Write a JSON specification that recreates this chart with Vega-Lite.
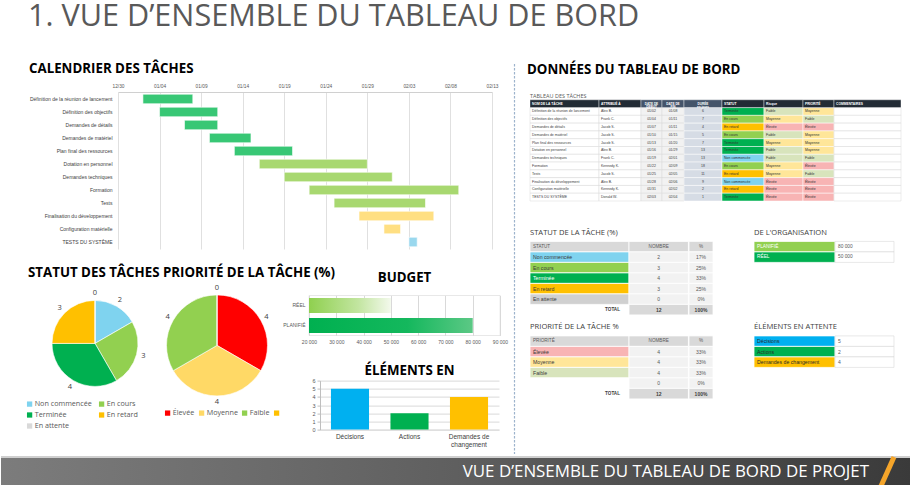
{
"$schema": "https://vega.github.io/schema/vega-lite/v6.json",
"background": "#ffffff",
"padding": {"top": 2, "left": 0, "right": 0, "bottom": 0},
"config": {
  "font": "Open Sans",
  "view": {"stroke": null},
  "title": {"font": "Open Sans", "color": "#000000"},
  "axis": {"labelFont": "Liberation Sans"},
  "legend": {"labelFont": "Open Sans"},
  "locale": {"number": {"decimal": ",", "thousands": " ", "grouping": [3], "currency": ["", " €"]}}
},
"title": {"text": "1. VUE D’ENSEMBLE DU TABLEAU DE BORD", "anchor": "start", "frame": "bounds", "dx": 28, "offset": 29.5, "fontSize": 30.6, "fontWeight": "normal", "color": "#595959"},
"datasets": {
  "taches": [
    {"n": 1, "nom": "Définition de la réunion de lancement", "attribue": "Alex B.", "debut": "2024-01-02", "fin": "2024-01-08", "duree": 6, "statut": "Terminée", "risque": "Faible", "priorite": "Moyenne", "phase": "Lancement"},
    {"n": 2, "nom": "Définition des objectifs", "attribue": "Frank C.", "debut": "2024-01-04", "fin": "2024-01-11", "duree": 7, "statut": "En cours", "risque": "Moyenne", "priorite": "Faible", "phase": "Lancement"},
    {"n": 3, "nom": "Demandes de détails", "attribue": "Jacob S.", "debut": "2024-01-07", "fin": "2024-01-11", "duree": 4, "statut": "En retard", "risque": "Élevée", "priorite": "Élevée", "phase": "Lancement"},
    {"n": 4, "nom": "Demandes de matériel", "attribue": "Jacob S.", "debut": "2024-01-10", "fin": "2024-01-15", "duree": 5, "statut": "En cours", "risque": "Faible", "priorite": "Moyenne", "phase": "Lancement"},
    {"n": 5, "nom": "Plan final des ressources", "attribue": "Jacob S.", "debut": "2024-01-13", "fin": "2024-01-20", "duree": 7, "statut": "Terminée", "risque": "Moyenne", "priorite": "Moyenne", "phase": "Lancement"},
    {"n": 6, "nom": "Dotation en personnel", "attribue": "Alex B.", "debut": "2024-01-16", "fin": "2024-01-29", "duree": 13, "statut": "Terminée", "risque": "Faible", "priorite": "Moyenne", "phase": "Exécution"},
    {"n": 7, "nom": "Demandes techniques", "attribue": "Frank C.", "debut": "2024-01-19", "fin": "2024-02-01", "duree": 13, "statut": "Non commencée", "risque": "Faible", "priorite": "Faible", "phase": "Exécution"},
    {"n": 8, "nom": "Formation", "attribue": "Kennedy K.", "debut": "2024-01-22", "fin": "2024-02-09", "duree": 18, "statut": "En cours", "risque": "Moyenne", "priorite": "Élevée", "phase": "Exécution"},
    {"n": 9, "nom": "Tests", "attribue": "Jacob S.", "debut": "2024-01-25", "fin": "2024-02-05", "duree": 11, "statut": "En retard", "risque": "Moyenne", "priorite": "Faible", "phase": "Exécution"},
    {"n": 10, "nom": "Finalisation du développement", "attribue": "Alex B.", "debut": "2024-01-28", "fin": "2024-02-06", "duree": 9, "statut": "Non commencée", "risque": "Élevée", "priorite": "Élevée", "phase": "Contrôle"},
    {"n": 11, "nom": "Configuration matérielle", "attribue": "Kennedy K.", "debut": "2024-01-31", "fin": "2024-02-02", "duree": 2, "statut": "En retard", "risque": "Élevée", "priorite": "Élevée", "phase": "Contrôle"},
    {"n": 12, "nom": "TESTS DU SYSTÈME", "attribue": "Donald W.", "debut": "2024-02-03", "fin": "2024-02-04", "duree": 1, "statut": "Terminée", "risque": "Élevée", "priorite": "Élevée", "phase": "Clôture"}
  ],
  "statuts": [
    {"statut": "Non commencée", "nombre": 2, "pct": 0.17, "rang": 1},
    {"statut": "En cours", "nombre": 3, "pct": 0.25, "rang": 2},
    {"statut": "Terminée", "nombre": 4, "pct": 0.33, "rang": 3},
    {"statut": "En retard", "nombre": 3, "pct": 0.25, "rang": 4},
    {"statut": "En attente", "nombre": 0, "pct": 0, "rang": 5}
  ],
  "priorites": [
    {"priorite": "Élevée", "nombre": 4, "pct": 0.33, "rang": 1},
    {"priorite": "Moyenne", "nombre": 4, "pct": 0.33, "rang": 2},
    {"priorite": "Faible", "nombre": 4, "pct": 0.33, "rang": 3},
    {"priorite": "", "nombre": 0, "pct": 0, "rang": 4}
  ],
  "entetes": [
    {"ligne": "hS", "col1": "STATUT", "col2": "NOMBRE", "col3": "%"},
    {"ligne": "hP", "col1": "PRIORITÉ", "col2": "NOMBRE", "col3": "%"}
  ],
  "totaux": [
    {"ligne": "totS", "libelle": "TOTAL", "nombre": 12, "pct": 1},
    {"ligne": "totP", "libelle": "TOTAL", "nombre": 12, "pct": 1}
  ],
  "budget": [
    {"poste": "PLANIFIÉ", "montant": 80000},
    {"poste": "RÉEL", "montant": 50000}
  ],
  "attente": [
    {"element": "Décisions", "nombre": 5},
    {"element": "Actions", "nombre": 2},
    {"element": "Demandes de changement", "nombre": 4}
  ]
},
"spacing": -1,
"resolve": {"scale": {"color": "independent"}, "legend": {"color": "independent"}},
"vconcat": [
 {
  "hconcat": [
   {
    "vconcat": [
     {
      "hconcat": [
       {"width": 117, "height": 1, "data": {"values": []}, "mark": "rect", "encoding": {}},
       {
        "width": 374, "height": 157,
        "title": {"text": "CALENDRIER DES TÂCHES", "anchor": "start", "frame": "group", "dx": -89, "offset": 7.5, "fontSize": 13.3, "fontWeight": "bold", "color": "#000000"},
        "data": {"name": "taches"},
        "mark": {"type": "bar", "stroke": "#ffffff", "strokeWidth": 0.6},
        "encoding": {
          "y": {"field": "nom", "type": "nominal", "sort": null, "scale": {"paddingInner": 0.27, "paddingOuter": 0.17}, "axis": {"title": null, "domain": false, "ticks": false, "labelFontSize": 5, "labelColor": "#404040", "labelPadding": 6, "labelLimit": 200}},
          "x": {"field": "debut", "type": "temporal", "scale": {"type": "utc", "domain": [{"year": 2023, "month": 12, "date": 30, "utc": true}, {"year": 2024, "month": 2, "date": 13, "utc": true}]},
                "axis": {"orient": "top", "title": null, "format": "%m/%d", "labelFontSize": 4.8, "labelColor": "#595959", "labelPadding": 4, "labelFlush": false, "labelOverlap": false, "ticks": false, "domainColor": "#d0d0d0", "grid": true, "gridColor": "#e0e0e0",
                         "values": [{"year": 2023, "month": 12, "date": 30, "utc": true}, {"year": 2024, "month": 1, "date": 4, "utc": true}, {"year": 2024, "month": 1, "date": 9, "utc": true}, {"year": 2024, "month": 1, "date": 14, "utc": true}, {"year": 2024, "month": 1, "date": 19, "utc": true}, {"year": 2024, "month": 1, "date": 24, "utc": true}, {"year": 2024, "month": 1, "date": 29, "utc": true}, {"year": 2024, "month": 2, "date": 3, "utc": true}, {"year": 2024, "month": 2, "date": 8, "utc": true}, {"year": 2024, "month": 2, "date": 13, "utc": true}]}},
          "x2": {"field": "fin"},
          "color": {"field": "phase", "type": "nominal", "scale": {"domain": ["Lancement", "Exécution", "Contrôle", "Clôture"], "range": ["#38c775", "#a8d870", "#ffdf82", "#9ad8ee"]}, "legend": null}
        }
       }
      ],
      "spacing": 0, "bounds": "flush",
      "resolve": {"scale": {"color": "independent"}, "legend": {"color": "independent"}}
     },
     {
      "title": {"text": "STATUT DES TÂCHES PRIORITÉ DE LA TÂCHE (%)", "anchor": "start", "frame": "bounds", "dx": 27, "offset": -8.5, "fontSize": 13.3, "fontWeight": "bold", "color": "#000000"},
      "hconcat": [
       {"width": 25, "height": 1, "data": {"values": []}, "mark": "rect", "encoding": {}},
       {
        "width": 138, "height": 96,
        "data": {"name": "statuts"},
        "encoding": {"theta": {"field": "nombre", "type": "quantitative", "stack": true}, "order": {"field": "rang", "type": "quantitative"}},
        "layer": [
          {"mark": {"type": "arc", "outerRadius": 43, "stroke": "#ffffff", "strokeWidth": 0.6},
           "encoding": {"color": {"field": "statut", "type": "nominal", "sort": null,
             "scale": {"domain": ["Non commencée", "En cours", "Terminée", "En retard", "En attente"], "range": ["#7fd3ef", "#92d050", "#00b050", "#ffc000", "#d9d9d9"]},
             "legend": {"orient": "bottom", "title": null, "columns": 2, "symbolType": "square", "symbolSize": 28, "symbolStrokeWidth": 0, "labelFontSize": 7.2, "labelColor": "#595959", "columnPadding": 6, "rowPadding": 3, "offset": 9, "padding": 0, "labelOffset": 1.5}}}},
          {"mark": {"type": "text", "radius": 50, "fontSize": 7.5, "color": "#404040"}, "encoding": {"text": {"field": "nombre", "type": "quantitative"}}}
        ]
       },
       {
        "width": 106, "height": 100,
        "data": {"name": "priorites"},
        "encoding": {"theta": {"field": "nombre", "type": "quantitative", "stack": true}, "order": {"field": "rang", "type": "quantitative"}},
        "layer": [
          {"mark": {"type": "arc", "outerRadius": 50.5, "stroke": "#ffffff", "strokeWidth": 0.6},
           "encoding": {"color": {"field": "priorite", "type": "nominal", "sort": null,
             "scale": {"domain": ["Élevée", "Moyenne", "Faible", ""], "range": ["#ff0000", "#ffd966", "#92d050", "#ffc000"]},
             "legend": {"orient": "bottom", "title": null, "columns": 4, "symbolType": "square", "symbolSize": 28, "symbolStrokeWidth": 0, "labelFontSize": 7.2, "labelColor": "#595959", "columnPadding": 3, "rowPadding": 3, "offset": 14, "padding": 0, "labelOffset": 1.5}}}},
          {"mark": {"type": "text", "radius": 57, "fontSize": 7.5, "color": "#404040"}, "encoding": {"text": {"field": "nombre", "type": "quantitative"}}}
        ]
       },
       {
        "vconcat": [
         {
          "width": 191, "height": 40,
          "title": {"text": "BUDGET", "anchor": "middle", "offset": 11.4, "fontSize": 13.3, "fontWeight": "bold", "color": "#000000"},
          "view": {"stroke": "#d9d9d9", "strokeWidth": 0.6},
          "data": {"name": "budget"},
          "encoding": {
            "y": {"field": "poste", "type": "nominal", "sort": ["RÉEL", "PLANIFIÉ"], "scale": {"paddingInner": 0.25, "paddingOuter": 0.125}, "axis": {"title": null, "domain": false, "ticks": false, "labelFontSize": 5, "labelColor": "#595959", "labelPadding": 4}},
            "x": {"field": "montant", "type": "quantitative", "scale": {"domain": [20000, 90000], "nice": false, "zero": false}, "axis": {"title": null, "values": [20000, 30000, 40000, 50000, 60000, 70000, 80000, 90000], "format": ",.0f", "labelFontSize": 5, "labelColor": "#595959", "domain": false, "ticks": false, "grid": true, "gridColor": "#d9d9d9", "labelPadding": 4, "labelFlush": false, "labelOverlap": false}},
            "x2": {"datum": 20000}
          },
          "layer": [
            {"transform": [{"filter": "datum.poste === 'RÉEL'"}], "mark": {"type": "bar", "color": {"gradient": "linear", "x1": 0, "y1": 0, "x2": 1, "y2": 0, "stops": [{"offset": 0, "color": "#8fd04f"}, {"offset": 0.6, "color": "#c2e5a0"}, {"offset": 1, "color": "#f3f9ec"}]}}},
            {"transform": [{"filter": "datum.poste === 'PLANIFIÉ'"}], "mark": {"type": "bar", "color": {"gradient": "linear", "x1": 0, "y1": 0, "x2": 1, "y2": 0, "stops": [{"offset": 0, "color": "#00b050"}, {"offset": 0.6, "color": "#14b85d"}, {"offset": 1, "color": "#5cc885"}]}}}
          ]
         },
         {
          "hconcat": [
           {"width": 11, "height": 1, "data": {"values": []}, "mark": "rect", "encoding": {}},
           {
            "width": 179, "height": 49,
            "title": {"text": "ÉLÉMENTS EN", "anchor": "middle", "offset": 1.4, "fontSize": 13.3, "fontWeight": "bold", "color": "#000000"},
            "data": {"name": "attente"},
            "mark": {"type": "bar"},
            "encoding": {
              "x": {"field": "element", "type": "nominal", "sort": null, "scale": {"paddingInner": 0.36, "paddingOuter": 0.184},
                    "axis": {"title": null, "labelAngle": 0, "labelFontSize": 6.5, "labelColor": "#404040", "ticks": false, "domainColor": "#d9d9d9", "labelPadding": 4, "labelLineHeight": 8,
                             "labelExpr": "datum.label == 'Demandes de changement' ? ['Demandes de', 'changement'] : datum.label"}},
              "y": {"field": "nombre", "type": "quantitative", "scale": {"domain": [0, 6], "nice": false},
                    "axis": {"title": null, "values": [0, 1, 2, 3, 4, 5, 6], "labelFontSize": 5.5, "labelColor": "#595959", "domainColor": "#bfbfbf", "tickSize": 3, "tickColor": "#bfbfbf", "grid": true, "gridColor": "#d9d9d9", "labelPadding": 2}},
              "color": {"field": "element", "type": "nominal", "scale": {"domain": ["Décisions", "Actions", "Demandes de changement"], "range": ["#00b0f0", "#00b050", "#ffc000"]}, "legend": null}
            }
           }
          ],
          "spacing": 0, "bounds": "flush",
          "resolve": {"scale": {"color": "independent"}, "legend": {"color": "independent"}}
         }
        ],
        "spacing": 18.2,
        "resolve": {"scale": {"color": "independent"}, "legend": {"color": "independent"}}
       }
      ],
      "spacing": 0,
      "resolve": {"scale": {"color": "independent"}, "legend": {"color": "independent"}}
     }
    ],
    "spacing": 16.4,
    "resolve": {"scale": {"color": "independent"}, "legend": {"color": "independent"}}
   },
   {
    "width": 7, "height": 362,
    "data": {"values": [{}]},
    "mark": {"type": "rule", "color": "#9db3cc", "strokeWidth": 1.2, "strokeDash": [2.5, 1.5], "yOffset": -28},
    "encoding": {"x": {"datum": 0, "type": "quantitative", "scale": {"domain": [0, 1]}, "axis": null}}
   },
   {
    "vconcat": [
     {
      "hconcat": [
       {
        "width": 69, "height": 109,
        "title": {"text": "DONNÉES DU TABLEAU DE BORD", "anchor": "start", "frame": "group", "offset": 15.4, "dx": -3, "fontSize": 13.3, "fontWeight": "bold", "color": "#000000"},
        "data": {"name": "taches"},
        "layer": [
          {"mark": {"type": "rect", "color": "#ffffff", "stroke": "#d9d9d9", "strokeWidth": 0.5}, "encoding": {"y": {"field": "n", "type": "ordinal", "scale": {"domain": [-1,0,1,2,3,4,5,6,7,8,9,10,11,12], "paddingInner": 0, "paddingOuter": 0}, "axis": null}}},
          {"mark": {"type": "text", "align": "left", "dx": 2, "fontSize": 3.5, "font": "Liberation Sans", "color": "#404040"}, "encoding": {"y": {"field": "n", "type": "ordinal"}, "x": {"datum": 0, "type": "quantitative", "scale": {"domain": [0, 1]}, "axis": null}, "text": {"field": "nom"}}},
          {"data": {"values": [{}]}, "mark": {"type": "rect", "color": "#222b35", "stroke": "#ffffff", "strokeWidth": 0.4}, "encoding": {"y": {"datum": 0, "type": "ordinal"}}},
          {"data": {"values": [{}]}, "mark": {"type": "text", "text": "NOM DE LA TÂCHE", "align": "left", "dx": 2, "fontSize": 3.3, "fontWeight": "bold", "font": "Liberation Sans", "color": "#ffffff"}, "encoding": {"y": {"datum": 0, "type": "ordinal"}, "x": {"datum": 0, "type": "quantitative"}}},
          {"data": {"values": [{}]}, "mark": {"type": "text", "text": "TABLEAU DES TÂCHES", "align": "left", "fontSize": 5.5, "color": "#595959"}, "encoding": {"y": {"datum": -1, "type": "ordinal"}, "x": {"datum": 0, "type": "quantitative"}}}
        ]
       },
       {
        "width": 42, "height": 109,
        "data": {"name": "taches"},
        "layer": [
          {"mark": {"type": "rect", "color": "#ffffff", "stroke": "#d9d9d9", "strokeWidth": 0.5}, "encoding": {"y": {"field": "n", "type": "ordinal", "scale": {"domain": [-1,0,1,2,3,4,5,6,7,8,9,10,11,12], "paddingInner": 0, "paddingOuter": 0}, "axis": null}}},
          {"mark": {"type": "text", "align": "left", "dx": 2, "fontSize": 3.5, "font": "Liberation Sans", "color": "#404040"}, "encoding": {"y": {"field": "n", "type": "ordinal"}, "x": {"datum": 0, "type": "quantitative", "scale": {"domain": [0, 1]}, "axis": null}, "text": {"field": "attribue"}}},
          {"data": {"values": [{}]}, "mark": {"type": "rect", "color": "#222b35", "stroke": "#ffffff", "strokeWidth": 0.4}, "encoding": {"y": {"datum": 0, "type": "ordinal"}}},
          {"data": {"values": [{}]}, "mark": {"type": "text", "text": "ATTRIBUÉ À", "align": "left", "dx": 2, "fontSize": 3.3, "fontWeight": "bold", "font": "Liberation Sans", "color": "#ffffff"}, "encoding": {"y": {"datum": 0, "type": "ordinal"}, "x": {"datum": 0, "type": "quantitative"}}}
        ]
       },
       {
        "width": 21, "height": 109,
        "data": {"name": "taches"},
        "layer": [
          {"mark": {"type": "rect", "color": "#f2f2f2", "stroke": "#d9d9d9", "strokeWidth": 0.5}, "encoding": {"y": {"field": "n", "type": "ordinal", "scale": {"domain": [-1,0,1,2,3,4,5,6,7,8,9,10,11,12], "paddingInner": 0, "paddingOuter": 0}, "axis": null}}},
          {"mark": {"type": "text", "fontSize": 3.5, "font": "Liberation Sans", "color": "#404040"}, "encoding": {"y": {"field": "n", "type": "ordinal"}, "text": {"field": "debut", "type": "temporal", "timeUnit": "utcmonthdate", "format": "%m/%d"}}},
          {"data": {"values": [{}]}, "mark": {"type": "rect", "color": "#44546a", "stroke": "#ffffff", "strokeWidth": 0.4}, "encoding": {"y": {"datum": 0, "type": "ordinal"}}},
          {"data": {"values": [{}]}, "mark": {"type": "text", "text": ["DATE DE", "DÉBUT"], "lineHeight": 3.6, "fontSize": 3.1, "fontWeight": "bold", "font": "Liberation Sans", "color": "#ffffff"}, "encoding": {"y": {"datum": 0, "type": "ordinal"}}}
        ]
       },
       {
        "width": 22, "height": 109,
        "data": {"name": "taches"},
        "layer": [
          {"mark": {"type": "rect", "color": "#f2f2f2", "stroke": "#d9d9d9", "strokeWidth": 0.5}, "encoding": {"y": {"field": "n", "type": "ordinal", "scale": {"domain": [-1,0,1,2,3,4,5,6,7,8,9,10,11,12], "paddingInner": 0, "paddingOuter": 0}, "axis": null}}},
          {"mark": {"type": "text", "fontSize": 3.5, "font": "Liberation Sans", "color": "#404040"}, "encoding": {"y": {"field": "n", "type": "ordinal"}, "text": {"field": "fin", "type": "temporal", "timeUnit": "utcmonthdate", "format": "%m/%d"}}},
          {"data": {"values": [{}]}, "mark": {"type": "rect", "color": "#44546a", "stroke": "#ffffff", "strokeWidth": 0.4}, "encoding": {"y": {"datum": 0, "type": "ordinal"}}},
          {"data": {"values": [{}]}, "mark": {"type": "text", "text": ["DATE DE", "FIN"], "lineHeight": 3.6, "fontSize": 3.1, "fontWeight": "bold", "font": "Liberation Sans", "color": "#ffffff"}, "encoding": {"y": {"datum": 0, "type": "ordinal"}}}
        ]
       },
       {
        "width": 38, "height": 109,
        "data": {"name": "taches"},
        "layer": [
          {"mark": {"type": "rect", "color": "#d6dce5", "stroke": "#ffffff", "strokeWidth": 0.5}, "encoding": {"y": {"field": "n", "type": "ordinal", "scale": {"domain": [-1,0,1,2,3,4,5,6,7,8,9,10,11,12], "paddingInner": 0, "paddingOuter": 0}, "axis": null}}},
          {"mark": {"type": "text", "fontSize": 3.5, "font": "Liberation Sans", "color": "#404040"}, "encoding": {"y": {"field": "n", "type": "ordinal"}, "text": {"field": "duree", "type": "quantitative"}}},
          {"data": {"values": [{}]}, "mark": {"type": "rect", "color": "#44546a", "stroke": "#ffffff", "strokeWidth": 0.4}, "encoding": {"y": {"datum": 0, "type": "ordinal"}}},
          {"data": {"values": [{}]}, "mark": {"type": "text", "text": ["DURÉE", "en jours"], "lineHeight": 3.6, "fontSize": 3.1, "fontWeight": "bold", "font": "Liberation Sans", "color": "#ffffff"}, "encoding": {"y": {"datum": 0, "type": "ordinal"}}}
        ]
       },
       {
        "width": 42, "height": 109,
        "data": {"name": "taches"},
        "layer": [
          {"mark": {"type": "rect", "stroke": "#ffffff", "strokeWidth": 0.5}, "encoding": {"y": {"field": "n", "type": "ordinal", "scale": {"domain": [-1,0,1,2,3,4,5,6,7,8,9,10,11,12], "paddingInner": 0, "paddingOuter": 0}, "axis": null}, "color": {"field": "statut", "type": "nominal", "scale": {"domain": ["Non commencée", "En cours", "Terminée", "En retard", "En attente"], "range": ["#7fd3ef", "#92d050", "#00b050", "#ffc000", "#d0d0d0"]}, "legend": null}}},
          {"mark": {"type": "text", "align": "left", "dx": 2, "fontSize": 3.5, "font": "Liberation Sans", "color": "#303030"}, "encoding": {"y": {"field": "n", "type": "ordinal"}, "x": {"datum": 0, "type": "quantitative", "scale": {"domain": [0, 1]}, "axis": null}, "text": {"field": "statut"}}},
          {"data": {"values": [{}]}, "mark": {"type": "rect", "color": "#222b35", "stroke": "#ffffff", "strokeWidth": 0.4}, "encoding": {"y": {"datum": 0, "type": "ordinal"}}},
          {"data": {"values": [{}]}, "mark": {"type": "text", "text": "STATUT", "align": "left", "dx": 2, "fontSize": 3.3, "fontWeight": "bold", "font": "Liberation Sans", "color": "#ffffff"}, "encoding": {"y": {"datum": 0, "type": "ordinal"}, "x": {"datum": 0, "type": "quantitative"}}}
        ]
       },
       {
        "width": 39, "height": 109,
        "data": {"name": "taches"},
        "layer": [
          {"mark": {"type": "rect", "stroke": "#ffffff", "strokeWidth": 0.5}, "encoding": {"y": {"field": "n", "type": "ordinal", "scale": {"domain": [-1,0,1,2,3,4,5,6,7,8,9,10,11,12], "paddingInner": 0, "paddingOuter": 0}, "axis": null}, "color": {"field": "risque", "type": "nominal", "scale": {"domain": ["Élevée", "Moyenne", "Faible"], "range": ["#f8b4b4", "#ffe699", "#d8e4bc"]}, "legend": null}}},
          {"mark": {"type": "text", "align": "left", "dx": 2, "fontSize": 3.5, "font": "Liberation Sans", "color": "#303030"}, "encoding": {"y": {"field": "n", "type": "ordinal"}, "x": {"datum": 0, "type": "quantitative", "scale": {"domain": [0, 1]}, "axis": null}, "text": {"field": "risque"}}},
          {"data": {"values": [{}]}, "mark": {"type": "rect", "color": "#222b35", "stroke": "#ffffff", "strokeWidth": 0.4}, "encoding": {"y": {"datum": 0, "type": "ordinal"}}},
          {"data": {"values": [{}]}, "mark": {"type": "text", "text": "Risque", "align": "left", "dx": 2, "fontSize": 3.3, "fontWeight": "bold", "font": "Liberation Sans", "color": "#ffffff"}, "encoding": {"y": {"datum": 0, "type": "ordinal"}, "x": {"datum": 0, "type": "quantitative"}}}
        ]
       },
       {
        "width": 31, "height": 109,
        "data": {"name": "taches"},
        "layer": [
          {"mark": {"type": "rect", "stroke": "#ffffff", "strokeWidth": 0.5}, "encoding": {"y": {"field": "n", "type": "ordinal", "scale": {"domain": [-1,0,1,2,3,4,5,6,7,8,9,10,11,12], "paddingInner": 0, "paddingOuter": 0}, "axis": null}, "color": {"field": "priorite", "type": "nominal", "scale": {"domain": ["Élevée", "Moyenne", "Faible"], "range": ["#f8b4b4", "#ffe699", "#d8e4bc"]}, "legend": null}}},
          {"mark": {"type": "text", "align": "left", "dx": 2, "fontSize": 3.5, "font": "Liberation Sans", "color": "#303030"}, "encoding": {"y": {"field": "n", "type": "ordinal"}, "x": {"datum": 0, "type": "quantitative", "scale": {"domain": [0, 1]}, "axis": null}, "text": {"field": "priorite"}}},
          {"data": {"values": [{}]}, "mark": {"type": "rect", "color": "#222b35", "stroke": "#ffffff", "strokeWidth": 0.4}, "encoding": {"y": {"datum": 0, "type": "ordinal"}}},
          {"data": {"values": [{}]}, "mark": {"type": "text", "text": "PRIORITÉ", "align": "left", "dx": 2, "fontSize": 3.3, "fontWeight": "bold", "font": "Liberation Sans", "color": "#ffffff"}, "encoding": {"y": {"datum": 0, "type": "ordinal"}, "x": {"datum": 0, "type": "quantitative"}}}
        ]
       },
       {
        "width": 67, "height": 109,
        "data": {"name": "taches"},
        "layer": [
          {"mark": {"type": "rect", "color": "#ffffff", "stroke": "#d9d9d9", "strokeWidth": 0.5}, "encoding": {"y": {"field": "n", "type": "ordinal", "scale": {"domain": [-1,0,1,2,3,4,5,6,7,8,9,10,11,12], "paddingInner": 0, "paddingOuter": 0}, "axis": null}}},
          {"data": {"values": [{}]}, "mark": {"type": "rect", "color": "#222b35", "stroke": "#ffffff", "strokeWidth": 0.4}, "encoding": {"y": {"datum": 0, "type": "ordinal"}}},
          {"data": {"values": [{}]}, "mark": {"type": "text", "text": "COMMENTAIRES", "align": "left", "dx": 2, "fontSize": 3.3, "fontWeight": "bold", "font": "Liberation Sans", "color": "#ffffff"}, "encoding": {"y": {"datum": 0, "type": "ordinal"}, "x": {"datum": 0, "type": "quantitative", "scale": {"domain": [0, 1]}, "axis": null}}}
        ]
       }
      ],
      "spacing": 0, "bounds": "flush",
      "resolve": {"scale": {"color": "independent"}, "legend": {"color": "independent"}}
     },
     {
      "hconcat": [
       {
        "width": 99, "height": 157.5,
        "title": {"text": "STATUT DE LA TÂCHE (%)", "anchor": "start", "frame": "group", "offset": 4.8, "fontSize": 7.6, "fontWeight": "normal", "color": "#404040"},
        "layer": [
          {"data": {"name": "entetes"}, "mark": {"type": "rect", "color": "#d9d9d9", "stroke": "#ffffff", "strokeWidth": 0.8}, "encoding": {"y": {"field": "ligne", "type": "ordinal", "scale": {"domain": ["hS", "Non commencée", "En cours", "Terminée", "En retard", "En attente", "totS", "g1", "g2", "hP", "Élevée", "Moyenne", "Faible", "", "totP"], "paddingInner": 0, "paddingOuter": 0}, "axis": null}}},
          {"data": {"name": "entetes"}, "mark": {"type": "text", "align": "left", "dx": 3, "fontSize": 4.6, "font": "Liberation Sans", "color": "#595959"}, "encoding": {"y": {"field": "ligne", "type": "ordinal"}, "x": {"datum": 0, "type": "quantitative", "scale": {"domain": [0, 1]}, "axis": null}, "text": {"field": "col1"}}},
          {"data": {"name": "statuts"}, "mark": {"type": "rect", "stroke": "#ffffff", "strokeWidth": 0.8}, "encoding": {"y": {"field": "statut", "type": "ordinal"}, "color": {"field": "statut", "type": "nominal", "scale": {"domain": ["Non commencée", "En cours", "Terminée", "En retard", "En attente", "Élevée", "Moyenne", "Faible", ""], "range": ["#7fd3ef", "#92d050", "#00b050", "#ffc000", "#d0d0d0", "#f8b4b4", "#ffe699", "#d8e4bc", "#ffffff"]}, "legend": null}}},
          {"data": {"name": "statuts"}, "mark": {"type": "text", "align": "left", "dx": 3, "fontSize": 5.2, "font": "Liberation Sans"}, "encoding": {"y": {"field": "statut", "type": "ordinal"}, "x": {"datum": 0, "type": "quantitative"}, "text": {"field": "statut"}, "color": {"condition": {"test": "datum.statut === 'Terminée'", "value": "#ffffff"}, "value": "#3a3a3a"}}},
          {"data": {"name": "priorites"}, "mark": {"type": "rect", "stroke": "#ffffff", "strokeWidth": 0.8}, "encoding": {"y": {"field": "priorite", "type": "ordinal"}, "color": {"field": "priorite", "type": "nominal", "scale": {"domain": ["Non commencée", "En cours", "Terminée", "En retard", "En attente", "Élevée", "Moyenne", "Faible", ""], "range": ["#7fd3ef", "#92d050", "#00b050", "#ffc000", "#d0d0d0", "#f8b4b4", "#ffe699", "#d8e4bc", "#ffffff"]}, "legend": null}}},
          {"data": {"name": "priorites"}, "mark": {"type": "text", "align": "left", "dx": 3, "fontSize": 5.2, "font": "Liberation Sans", "color": "#3a3a3a"}, "encoding": {"y": {"field": "priorite", "type": "ordinal"}, "x": {"datum": 0, "type": "quantitative"}, "text": {"field": "priorite"}}},
          {"data": {"name": "totaux"}, "mark": {"type": "text", "align": "right", "dx": -9, "fontSize": 4.6, "fontWeight": "bold", "font": "Liberation Sans", "color": "#404040"}, "encoding": {"y": {"field": "ligne", "type": "ordinal"}, "x": {"datum": 1, "type": "quantitative"}, "text": {"field": "libelle"}}},
          {"data": {"values": [{}]}, "mark": {"type": "text", "text": "PRIORITÉ DE LA TÂCHE %", "align": "left", "baseline": "bottom", "fontSize": 7.6, "color": "#404040"}, "encoding": {"y": {"datum": "g2", "type": "ordinal"}, "x": {"datum": 0, "type": "quantitative"}}}
        ]
       },
       {
        "width": 59.4, "height": 157.5,
        "layer": [
          {"data": {"name": "entetes"}, "mark": {"type": "rect", "color": "#d9d9d9", "stroke": "#ffffff", "strokeWidth": 0.8}, "encoding": {"y": {"field": "ligne", "type": "ordinal", "scale": {"domain": ["hS", "Non commencée", "En cours", "Terminée", "En retard", "En attente", "totS", "g1", "g2", "hP", "Élevée", "Moyenne", "Faible", "", "totP"], "paddingInner": 0, "paddingOuter": 0}, "axis": null}}},
          {"data": {"name": "entetes"}, "mark": {"type": "text", "fontSize": 4.6, "font": "Liberation Sans", "color": "#595959"}, "encoding": {"y": {"field": "ligne", "type": "ordinal"}, "text": {"field": "col2"}}},
          {"data": {"name": "statuts"}, "mark": {"type": "rect", "color": "#f2f2f2", "stroke": "#ffffff", "strokeWidth": 0.8}, "encoding": {"y": {"field": "statut", "type": "ordinal"}}},
          {"data": {"name": "statuts"}, "mark": {"type": "text", "fontSize": 5, "font": "Liberation Sans", "color": "#595959"}, "encoding": {"y": {"field": "statut", "type": "ordinal"}, "text": {"field": "nombre", "type": "quantitative"}}},
          {"data": {"name": "priorites"}, "mark": {"type": "rect", "color": "#f2f2f2", "stroke": "#ffffff", "strokeWidth": 0.8}, "encoding": {"y": {"field": "priorite", "type": "ordinal"}}},
          {"data": {"name": "priorites"}, "mark": {"type": "text", "fontSize": 5, "font": "Liberation Sans", "color": "#595959"}, "encoding": {"y": {"field": "priorite", "type": "ordinal"}, "text": {"field": "nombre", "type": "quantitative"}}},
          {"data": {"name": "totaux"}, "mark": {"type": "rect", "color": "#d9d9d9", "stroke": "#ffffff", "strokeWidth": 0.8}, "encoding": {"y": {"field": "ligne", "type": "ordinal"}}},
          {"data": {"name": "totaux"}, "mark": {"type": "text", "fontSize": 5, "fontWeight": "bold", "font": "Liberation Sans", "color": "#404040"}, "encoding": {"y": {"field": "ligne", "type": "ordinal"}, "text": {"field": "nombre", "type": "quantitative"}}}
        ]
       },
       {
        "width": 24, "height": 157.5,
        "layer": [
          {"data": {"name": "entetes"}, "mark": {"type": "rect", "color": "#d9d9d9", "stroke": "#ffffff", "strokeWidth": 0.8}, "encoding": {"y": {"field": "ligne", "type": "ordinal", "scale": {"domain": ["hS", "Non commencée", "En cours", "Terminée", "En retard", "En attente", "totS", "g1", "g2", "hP", "Élevée", "Moyenne", "Faible", "", "totP"], "paddingInner": 0, "paddingOuter": 0}, "axis": null}}},
          {"data": {"name": "entetes"}, "mark": {"type": "text", "fontSize": 4.6, "font": "Liberation Sans", "color": "#595959"}, "encoding": {"y": {"field": "ligne", "type": "ordinal"}, "text": {"field": "col3"}}},
          {"data": {"name": "statuts"}, "mark": {"type": "rect", "color": "#f2f2f2", "stroke": "#ffffff", "strokeWidth": 0.8}, "encoding": {"y": {"field": "statut", "type": "ordinal"}}},
          {"data": {"name": "statuts"}, "mark": {"type": "text", "fontSize": 5, "font": "Liberation Sans", "color": "#595959"}, "encoding": {"y": {"field": "statut", "type": "ordinal"}, "text": {"field": "pct", "type": "quantitative", "format": ".0%"}}},
          {"data": {"name": "priorites"}, "mark": {"type": "rect", "color": "#f2f2f2", "stroke": "#ffffff", "strokeWidth": 0.8}, "encoding": {"y": {"field": "priorite", "type": "ordinal"}}},
          {"data": {"name": "priorites"}, "mark": {"type": "text", "fontSize": 5, "font": "Liberation Sans", "color": "#595959"}, "encoding": {"y": {"field": "priorite", "type": "ordinal"}, "text": {"field": "pct", "type": "quantitative", "format": ".0%"}}},
          {"data": {"name": "totaux"}, "mark": {"type": "rect", "color": "#d9d9d9", "stroke": "#ffffff", "strokeWidth": 0.8}, "encoding": {"y": {"field": "ligne", "type": "ordinal"}}},
          {"data": {"name": "totaux"}, "mark": {"type": "text", "fontSize": 5, "fontWeight": "bold", "font": "Liberation Sans", "color": "#404040"}, "encoding": {"y": {"field": "ligne", "type": "ordinal"}, "text": {"field": "pct", "type": "quantitative", "format": ".0%"}}}
        ]
       },
       {"width": 40.6, "height": 1, "data": {"values": []}, "mark": "rect", "encoding": {}},
       {
        "width": 81, "height": 157.5,
        "title": {"text": "DE L'ORGANISATION", "anchor": "start", "frame": "group", "offset": 4.8, "fontSize": 7.6, "fontWeight": "normal", "color": "#404040"},
        "layer": [
          {"data": {"name": "budget"}, "mark": {"type": "rect", "stroke": "#ffffff", "strokeWidth": 0.8}, "encoding": {"y": {"field": "poste", "type": "ordinal", "scale": {"domain": ["PLANIFIÉ", "RÉEL", "o2", "o3", "o4", "o5", "o6", "o7", "gE", "Décisions", "Actions", "Demandes de changement", "o12", "o13", "o14"], "paddingInner": 0, "paddingOuter": 0}, "axis": null}, "color": {"field": "poste", "type": "nominal", "scale": {"domain": ["PLANIFIÉ", "RÉEL", "Décisions", "Actions", "Demandes de changement"], "range": ["#92d050", "#00b050", "#00b0f0", "#00b050", "#ffc000"]}, "legend": null}}},
          {"data": {"name": "budget"}, "mark": {"type": "text", "align": "left", "dx": 3, "fontSize": 4.8, "font": "Liberation Sans", "color": "#ffffff"}, "encoding": {"y": {"field": "poste", "type": "ordinal"}, "x": {"datum": 0, "type": "quantitative", "scale": {"domain": [0, 1]}, "axis": null}, "text": {"field": "poste"}}},
          {"data": {"name": "attente"}, "mark": {"type": "rect", "stroke": "#ffffff", "strokeWidth": 0.8}, "encoding": {"y": {"field": "element", "type": "ordinal"}, "color": {"field": "element", "type": "nominal", "scale": {"domain": ["PLANIFIÉ", "RÉEL", "Décisions", "Actions", "Demandes de changement"], "range": ["#92d050", "#00b050", "#00b0f0", "#00b050", "#ffc000"]}, "legend": null}}},
          {"data": {"name": "attente"}, "mark": {"type": "text", "align": "left", "dx": 3, "fontSize": 5.2, "font": "Liberation Sans", "color": "#2a2a2a"}, "encoding": {"y": {"field": "element", "type": "ordinal"}, "x": {"datum": 0, "type": "quantitative"}, "text": {"field": "element"}}},
          {"data": {"values": [{}]}, "mark": {"type": "text", "text": "ÉLÉMENTS EN ATTENTE", "align": "left", "baseline": "bottom", "fontSize": 7.6, "color": "#404040"}, "encoding": {"y": {"datum": "gE", "type": "ordinal"}, "x": {"datum": 0, "type": "quantitative"}}}
        ]
       },
       {
        "width": 59, "height": 157.5,
        "layer": [
          {"data": {"name": "budget"}, "mark": {"type": "rect", "color": "#ffffff", "stroke": "#d9d9d9", "strokeWidth": 0.6}, "encoding": {"y": {"field": "poste", "type": "ordinal", "scale": {"domain": ["PLANIFIÉ", "RÉEL", "o2", "o3", "o4", "o5", "o6", "o7", "gE", "Décisions", "Actions", "Demandes de changement", "o12", "o13", "o14"], "paddingInner": 0, "paddingOuter": 0}, "axis": null}}},
          {"data": {"name": "budget"}, "mark": {"type": "text", "align": "left", "dx": 3, "fontSize": 4.8, "font": "Liberation Sans", "color": "#595959"}, "encoding": {"y": {"field": "poste", "type": "ordinal"}, "x": {"datum": 0, "type": "quantitative", "scale": {"domain": [0, 1]}, "axis": null}, "text": {"field": "montant", "type": "quantitative", "format": ",.0f"}}},
          {"data": {"name": "attente"}, "mark": {"type": "rect", "color": "#ffffff", "stroke": "#d9d9d9", "strokeWidth": 0.6}, "encoding": {"y": {"field": "element", "type": "ordinal"}}},
          {"data": {"name": "attente"}, "mark": {"type": "text", "align": "left", "dx": 3, "fontSize": 5, "font": "Liberation Sans", "color": "#595959"}, "encoding": {"y": {"field": "element", "type": "ordinal"}, "x": {"datum": 0, "type": "quantitative"}, "text": {"field": "nombre", "type": "quantitative"}}}
        ]
       }
      ],
      "spacing": 0, "bounds": "flush",
      "resolve": {"scale": {"color": "independent"}, "legend": {"color": "independent"}}
     }
    ],
    "spacing": 26.4,
    "resolve": {"scale": {"color": "independent"}, "legend": {"color": "independent"}}
   }
  ],
  "spacing": 5.5,
  "resolve": {"scale": {"color": "independent"}, "legend": {"color": "independent"}}
 },
 {
  "width": 910, "height": 29,
  "data": {"values": [{"texte": "VUE D’ENSEMBLE DU TABLEAU DE BORD DE PROJET"}]},
  "layer": [
    {"mark": {"type": "rect", "color": {"gradient": "linear", "x1": 0, "y1": 0, "x2": 1, "y2": 0, "stops": [{"offset": 0, "color": "#7c7c7c"}, {"offset": 0.5, "color": "#5f5f5f"}, {"offset": 1, "color": "#3a3a3a"}]}}, "encoding": {}},
    {"mark": {"type": "rule", "color": "#cfcfcf", "strokeWidth": 2}, "encoding": {"y": {"datum": 1, "type": "quantitative", "scale": {"domain": [0, 1]}, "axis": null}}},
    {"mark": {"type": "text", "align": "right", "baseline": "middle", "fontSize": 16.9, "color": "#ffffff", "dx": -42}, "encoding": {"text": {"field": "texte"}, "x": {"datum": 1, "type": "quantitative", "scale": {"domain": [0, 1]}, "axis": null}}},
    {"mark": {"type": "rule", "color": "#f5a52a", "strokeWidth": 5, "xOffset": -30, "x2Offset": -17}, "encoding": {"x": {"datum": 1, "type": "quantitative"}, "x2": {"datum": 1}, "y": {"datum": 0, "type": "quantitative"}, "y2": {"datum": 1}}}
  ]
 }
]
}
